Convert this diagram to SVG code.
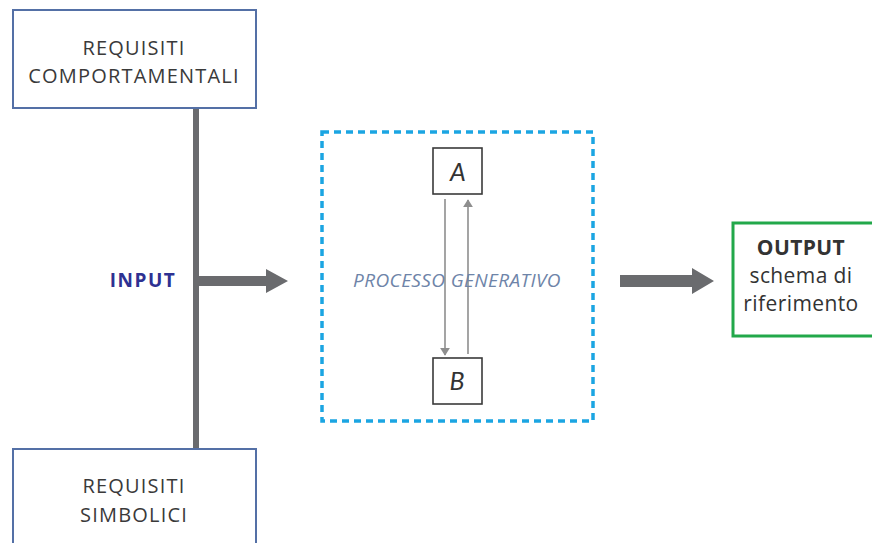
<svg xmlns="http://www.w3.org/2000/svg" width="872" height="543" viewBox="0 0 872 543">
<defs>
<style>
.req{fill:#fff;stroke:#5470a6;stroke-width:2}
.reqt{font-family:"Open Sans","Liberation Sans",sans-serif;font-size:20px;fill:#3a3a3a;text-anchor:middle;letter-spacing:1.2px}
.ab{fill:#fff;stroke:#3a3a3a;stroke-width:1.6}
.abt{font-family:Lato,"Open Sans",sans-serif;font-style:italic;font-size:25px;fill:#333;text-anchor:middle}
.thin{stroke:#8e8e8e;stroke-width:1.6;fill:none}
.big{fill:#6a6b6e}
.outt{font-family:"Open Sans","Liberation Sans",sans-serif;font-size:21px;fill:#333;text-anchor:middle;letter-spacing:0.4px}
</style>
<marker id="ah" viewBox="0 0 10 10" refX="9" refY="5" markerWidth="8" markerHeight="10" markerUnits="userSpaceOnUse" orient="auto" preserveAspectRatio="none">
<path d="M0,0 L10,5 L0,10 Z" fill="#8e8e8e"/>
</marker>
</defs>
<rect width="872" height="543" fill="#fff"/>
<g id="connectors">
<rect class="big" x="193" y="108" width="6" height="341"/>
<path class="big" d="M199,276 H266 V269 L288,281 L266,293 V286 H199 Z"/>
<path class="big" d="M620,275 H692 V268 L714,281 L692,294 V287 H620 Z"/>
<line class="thin" x1="445" y1="199" x2="445" y2="355" marker-end="url(#ah)"/>
<line class="thin" x1="468" y1="354" x2="468" y2="200" marker-end="url(#ah)"/>
</g>
<g id="req-comportamentali">
<rect class="req" x="13" y="10" width="243" height="98"/>
<text class="reqt" x="134" y="55">REQUISITI</text>
<text class="reqt" x="134" y="83">COMPORTAMENTALI</text>
</g>
<g id="req-simbolici">
<rect class="req" x="13" y="449" width="243" height="110"/>
<text class="reqt" x="134" y="493">REQUISITI</text>
<text class="reqt" x="134" y="522">SIMBOLICI</text>
</g>
<g id="input">
<text x="143" y="287" font-family="'Open Sans','Liberation Sans',sans-serif" font-weight="bold" font-size="19" letter-spacing="1.5" fill="#2e3192" text-anchor="middle">INPUT</text>
</g>
<g id="processo">
<rect x="322" y="132" width="271" height="289" fill="none" stroke="#1ba5e2" stroke-width="3.5" stroke-dasharray="7 5"/>
<text x="457" y="287" font-family="'Open Sans','Liberation Sans',sans-serif" font-style="italic" font-size="19" letter-spacing="0.4" fill="#6e84a8" text-anchor="middle">PROCESSO GENERATIVO</text>
</g>
<g id="node-a">
<rect class="ab" x="433" y="148" width="49" height="46"/>
<text class="abt" x="458" y="181">A</text>
</g>
<g id="node-b">
<rect class="ab" x="433" y="358" width="49" height="46"/>
<text class="abt" x="457" y="390">B</text>
</g>
<g id="output">
<rect x="733" y="223" width="150" height="113" fill="#fff" stroke="#22a84a" stroke-width="3"/>
<text class="outt" x="801" y="255" font-weight="bold" letter-spacing="1.5">OUTPUT</text>
<text class="outt" x="801" y="283">schema di</text>
<text class="outt" x="801" y="311">riferimento</text>
</g>
</svg>
